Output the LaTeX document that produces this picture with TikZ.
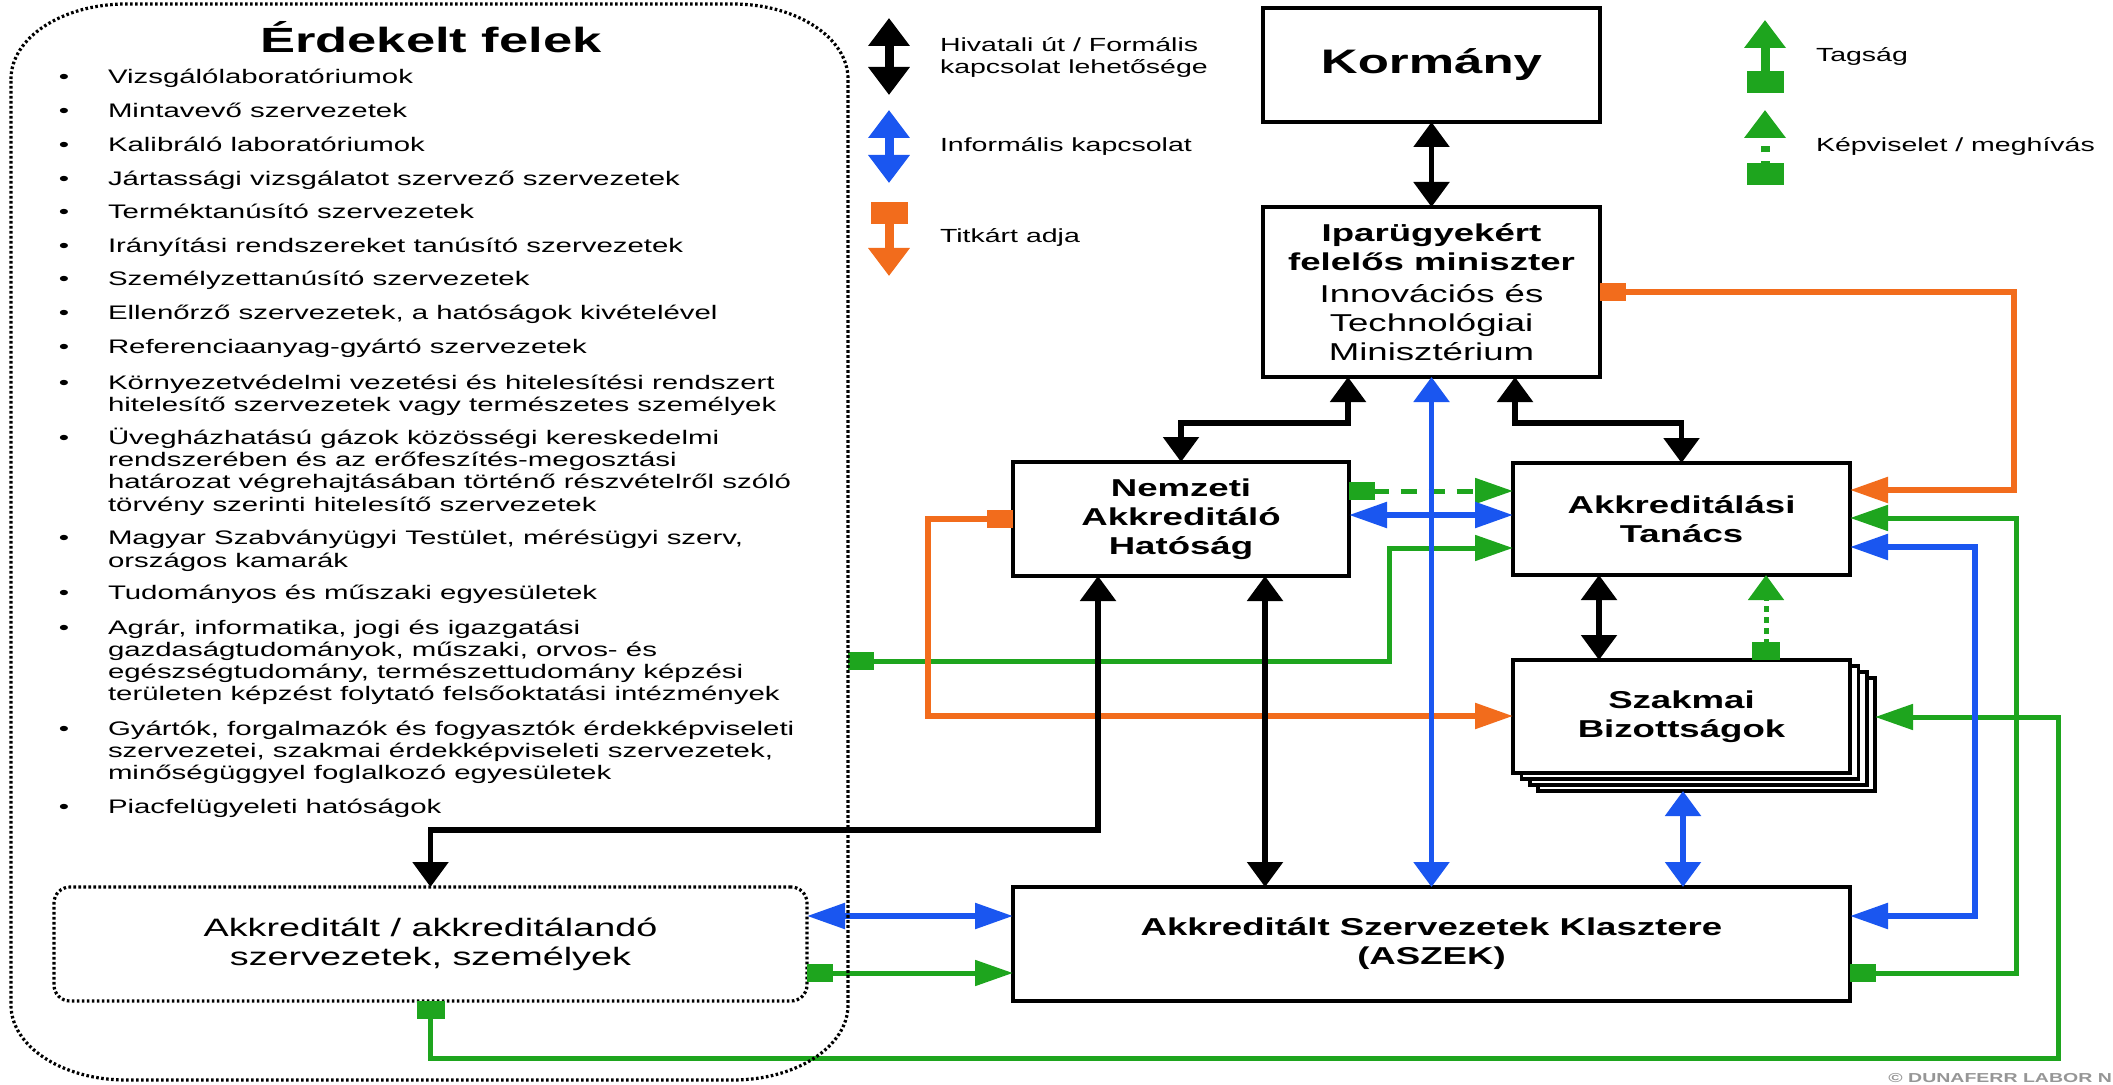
\documentclass[tikz,border=0pt]{standalone}
\usepackage{fontspec}
\setmainfont{Liberation Sans}[FakeStretch=1.5]
\usetikzlibrary{arrows.meta}
\definecolor{cblue}{RGB}{26,86,240}
\definecolor{cgreen}{RGB}{30,165,30}
\definecolor{corange}{RGB}{242,108,28}
\definecolor{cgray}{RGB}{150,150,150}
\newcommand{\boxfont}{\fontsize{12.2}{14.5}\selectfont\bfseries}
\newcommand{\listfont}{\fontsize{9.8}{11}\selectfont}
\newcommand{\legfont}{\fontsize{9.5}{11}\selectfont}
\tikzset{
  TipV/.tip={Triangle[width=17.5pt,length=12.5pt]},
  TipH/.tip={Triangle[width=12.5pt,length=19pt]},
  SqV/.tip={Square[width=14pt,length=9pt]},
  SqH/.tip={Square[width=9pt,length=13pt]},
  LgT/.tip={Triangle[width=20pt,length=14pt]},
  LgS/.tip={Square[width=18.5pt,length=11pt]},
  box/.style={draw, line width=1.8pt, fill=white, inner sep=0pt, outer sep=0pt, align=center, font=\boxfont},
  dotbox/.style={draw, line width=1.6pt, dash pattern=on 1.3pt off 1.2pt},
  lst/.style={inner sep=0pt, outer sep=0pt, anchor=base west, font=\listfont},
  bul/.style={inner sep=0pt, outer sep=0pt, anchor=base, font=\listfont},
  leg/.style={inner sep=0pt, outer sep=0pt, anchor=base west, font=\legfont},
  blk/.style={draw=black, line width=2.75pt},
  blu/.style={draw=cblue, line width=2.75pt},
  grn/.style={draw=cgreen, line width=2.5pt},
  org/.style={draw=corange, line width=2.75pt},
  dashH/.style={dash pattern=on 8pt off 6pt},
  dashV/.style={dash pattern=on 3pt off 2.5pt},
  lgl/.style={line width=4.5pt},
}
\begin{document}
\begin{tikzpicture}[x=0.5pt, y=-0.5pt]
\useasboundingbox (0,0) rectangle (2113,1085);
\fill[white] (0,0) rectangle (2113,1085);

% title and list
\node[inner sep=0pt, anchor=base, font=\fontsize{17.5}{19}\selectfont\bfseries] (ttl) at (431,53) {Érdekelt felek};

\node[bul] (b1) at (64,84) {•};   \node[lst] (t1) at (108,84) {Vizsgálólaboratóriumok};
\node[bul] (b2) at (64,118) {•};  \node[lst] (t2) at (108,118) {Mintavevő szervezetek};
\node[bul] (b3) at (64,152) {•};  \node[lst] (t3) at (108,152) {Kalibráló laboratóriumok};
\node[bul] (b4) at (64,186) {•};  \node[lst] (t4) at (108,186) {Jártassági vizsgálatot szervező szervezetek};
\node[bul] (b5) at (64,219) {•};  \node[lst] (t5) at (108,219) {Terméktanúsító szervezetek};
\node[bul] (b6) at (64,253) {•};  \node[lst] (t6) at (108,253) {Irányítási rendszereket tanúsító szervezetek};
\node[bul] (b7) at (64,286) {•};  \node[lst] (t7) at (108,286) {Személyzettanúsító szervezetek};
\node[bul] (b8) at (64,320) {•};  \node[lst] (t8) at (108,320) {Ellenőrző szervezetek, a hatóságok kivételével};
\node[bul] (b9) at (64,354) {•};  \node[lst] (t9) at (108,354) {Referenciaanyag-gyártó szervezetek};
\node[bul] (b10) at (64,389) {•}; \node[lst] (t10a) at (108,389) {Környezetvédelmi vezetési és hitelesítési rendszert};
\node[lst] (t10b) at (108,411) {hitelesítő szervezetek vagy természetes személyek};
\node[bul] (b11) at (64,444) {•}; \node[lst] (t11a) at (108,444) {Üvegházhatású gázok közösségi kereskedelmi};
\node[lst] (t11b) at (108,466) {rendszerében és az erőfeszítés-megosztási};
\node[lst] (t11c) at (108,488) {határozat végrehajtásában történő részvételről szóló};
\node[lst] (t11d) at (108,511) {törvény szerinti hitelesítő szervezetek};
\node[bul] (b12) at (64,544) {•}; \node[lst] (t12a) at (108,544) {Magyar Szabványügyi Testület, mérésügyi szerv,};
\node[lst] (t12b) at (108,567) {országos kamarák};
\node[bul] (b13) at (64,599) {•}; \node[lst] (t13) at (108,599) {Tudományos és műszaki egyesületek};
\node[bul] (b14) at (64,634) {•}; \node[lst] (t14a) at (108,634) {Agrár, informatika, jogi és igazgatási};
\node[lst] (t14b) at (108,656) {gazdaságtudományok, műszaki, orvos- és};
\node[lst] (t14c) at (108,678) {egészségtudomány, természettudomány képzési};
\node[lst] (t14d) at (108,700) {területen képzést folytató felsőoktatási intézmények};
\node[bul] (b15) at (64,735) {•}; \node[lst] (t15a) at (108,735) {Gyártók, forgalmazók és fogyasztók érdekképviseleti};
\node[lst] (t15b) at (108,757) {szervezetei, szakmai érdekképviseleti szervezetek,};
\node[lst] (t15c) at (108,779) {minőségüggyel foglalkozó egyesületek};
\node[bul] (b16) at (64,813) {•}; \node[lst] (t16) at (108,813) {Piacfelügyeleti hatóságok};

% legend
\coordinate (lk1) at (889,18);   \coordinate (lk2) at (889,95);
\coordinate (lb1) at (889,110);  \coordinate (lb2) at (889,183);
\coordinate (lo1) at (889,202);  \coordinate (lo2) at (889,276);
\coordinate (lt1) at (1765,93);  \coordinate (lt2) at (1765,20);
\coordinate (lr1) at (1765,185); \coordinate (lr2) at (1765,110);
\draw[black, lgl, LgT-LgT] (lk1) -- (lk2);
\draw[cblue, lgl, LgT-LgT] (lb1) -- (lb2);
\draw[corange, lgl, LgS-LgT] (lo1) -- (lo2);
\draw[cgreen, lgl, LgS-LgT] (lt1) -- (lt2);
\draw[cgreen, lgl, dash pattern=on 3pt off 4.5pt, LgS-LgT] (lr1) -- (lr2);
\node[leg] (lg1) at (940,52) {Hivatali út / Formális};
\node[leg] (lg2) at (940,74) {kapcsolat lehetősége};
\node[leg] (lg3) at (940,152) {Informális kapcsolat};
\node[leg] (lg4) at (940,243) {Titkárt adja};
\node[leg] (lg5) at (1816,62) {Tagság};
\node[leg] (lg6) at (1816,152) {Képviselet / meghívás};

% boxes
\node[box, minimum width=168.5pt, minimum height=57pt, font=\fontsize{17}{20}\selectfont\bfseries] (kor) at (1431.5,65) {Kormány};
\node[box, minimum width=168.5pt, minimum height=85pt] (ipar) at (1431.5,292)
  {Iparügyekért\\felelős miniszter\\[1.5pt]\mdseries Innovációs és\\\mdseries Technológiai\\\mdseries Minisztérium};
\node[box, minimum width=168pt, minimum height=57pt] (nah) at (1181,519) {Nemzeti\\Akkreditáló\\Hatóság};
\node[box, minimum width=168.5pt, minimum height=56pt] (at) at (1681.5,519) {Akkreditálási\\Tanács};
\node[box, minimum width=168.5pt, minimum height=56.5pt] (szc3) at (1706.5,734.5) {};
\node[box, minimum width=168.5pt, minimum height=56.5pt] (szc2) at (1698.2,728.5) {};
\node[box, minimum width=168.5pt, minimum height=56.5pt] (szc1) at (1689.8,722.5) {};
\node[box, minimum width=168.5pt, minimum height=56.5pt] (szak) at (1681.5,716.5) {Szakmai\\Bizottságok};
\node[box, minimum width=418.5pt, minimum height=57pt] (aszek) at (1431.5,944) {Akkreditált Szervezetek Klasztere\\(ASZEK)};
\node[dotbox, rounded corners=8pt, inner sep=0pt, outer sep=0pt, align=center, minimum width=376.5pt, minimum height=57pt, font=\fontsize{12.6}{14.5}\selectfont] (akk) at (430.5,944) {Akkreditált / akkreditálandó\\szervezetek, személyek};

\coordinate (bx) at (848,661);

% green
\draw[grn, SqH-TipH] (bx) -- (1389,661) -- (1389,548) -- (at.west |- 0,548);
\draw[grn, SqH-TipH] (akk.east |- 0,973) -- (aszek.west |- 0,973);
\draw[grn, SqH-TipH] (aszek.east |- 0,973) -- (2016,973) -- (2016,518) -- (at.east |- 0,518);
\draw[grn, SqV-TipH] (akk.south) -- (430.5,1058) -- (2058,1058) -- (2058,717) -- (szc3.east |- 0,717);
\draw[grn, dashH, SqH-TipH] (nah.east |- 0,491) -- (at.west |- 0,491);
\draw[grn, dashV, SqV-TipV] (szak.north -| 1766,0) -- (at.south -| 1766,0);

% orange
\draw[org, SqH-TipH] (ipar.east |- 0,292) -- (2014,292) -- (2014,490) -- (at.east |- 0,490);
\draw[org, SqH-TipH] (nah.west |- 0,519) -- (928,519) -- (928,716) -- (szak.west |- 0,716);

% black
\draw[blk, TipV-TipV] (kor.south) -- (ipar.north);
\draw[blk, TipV-TipV] (ipar.south -| 1348,0) -- (1348,423) -- (1181,423) -- (nah.north);
\draw[blk, TipV-TipV] (ipar.south -| 1515,0) -- (1515,423) -- (1681.5,423) -- (at.north);
\draw[blk, TipV-TipV] (at.south -| 1599,0) -- (szak.north -| 1599,0);
\draw[blk, TipV-TipV] (nah.south -| 1098,0) -- (1098,830) -- (430.5,830) -- (akk.north);
\draw[blk, TipV-TipV] (nah.south -| 1265,0) -- (aszek.north -| 1265,0);

% blue
\draw[blu, TipV-TipV] (ipar.south) -- (aszek.north);
\draw[blu, TipH-TipH] (nah.east |- 0,515) -- (at.west |- 0,515);
\draw[blu, TipH-TipH] (at.east |- 0,547) -- (1975,547) -- (1975,916) -- (aszek.east |- 0,916);
\draw[blu, TipV-TipV] (szc3.south -| 1683,0) -- (aszek.north -| 1683,0);
\draw[blu, TipH-TipH] (akk.east |- 0,916) -- (aszek.west |- 0,916);

% big stakeholder frame
\draw[dotbox] (11,79) .. controls (11,37.6) and (62.5,4) .. (126,4) -- (733,4)
  .. controls (796.5,4) and (848,37.6) .. (848,79) -- (848,1005)
  .. controls (848,1046.4) and (796.5,1080) .. (733,1080) -- (126,1080)
  .. controls (62.5,1080) and (11,1046.4) .. (11,1005) -- cycle;

% watermark
\node[inner sep=0pt, anchor=base west, text=cgray, font=\fontsize{6.5}{8}\selectfont\bfseries] (wm) at (1888,1082) {© DUNAFERR LABOR N};
\end{tikzpicture}
\end{document}
